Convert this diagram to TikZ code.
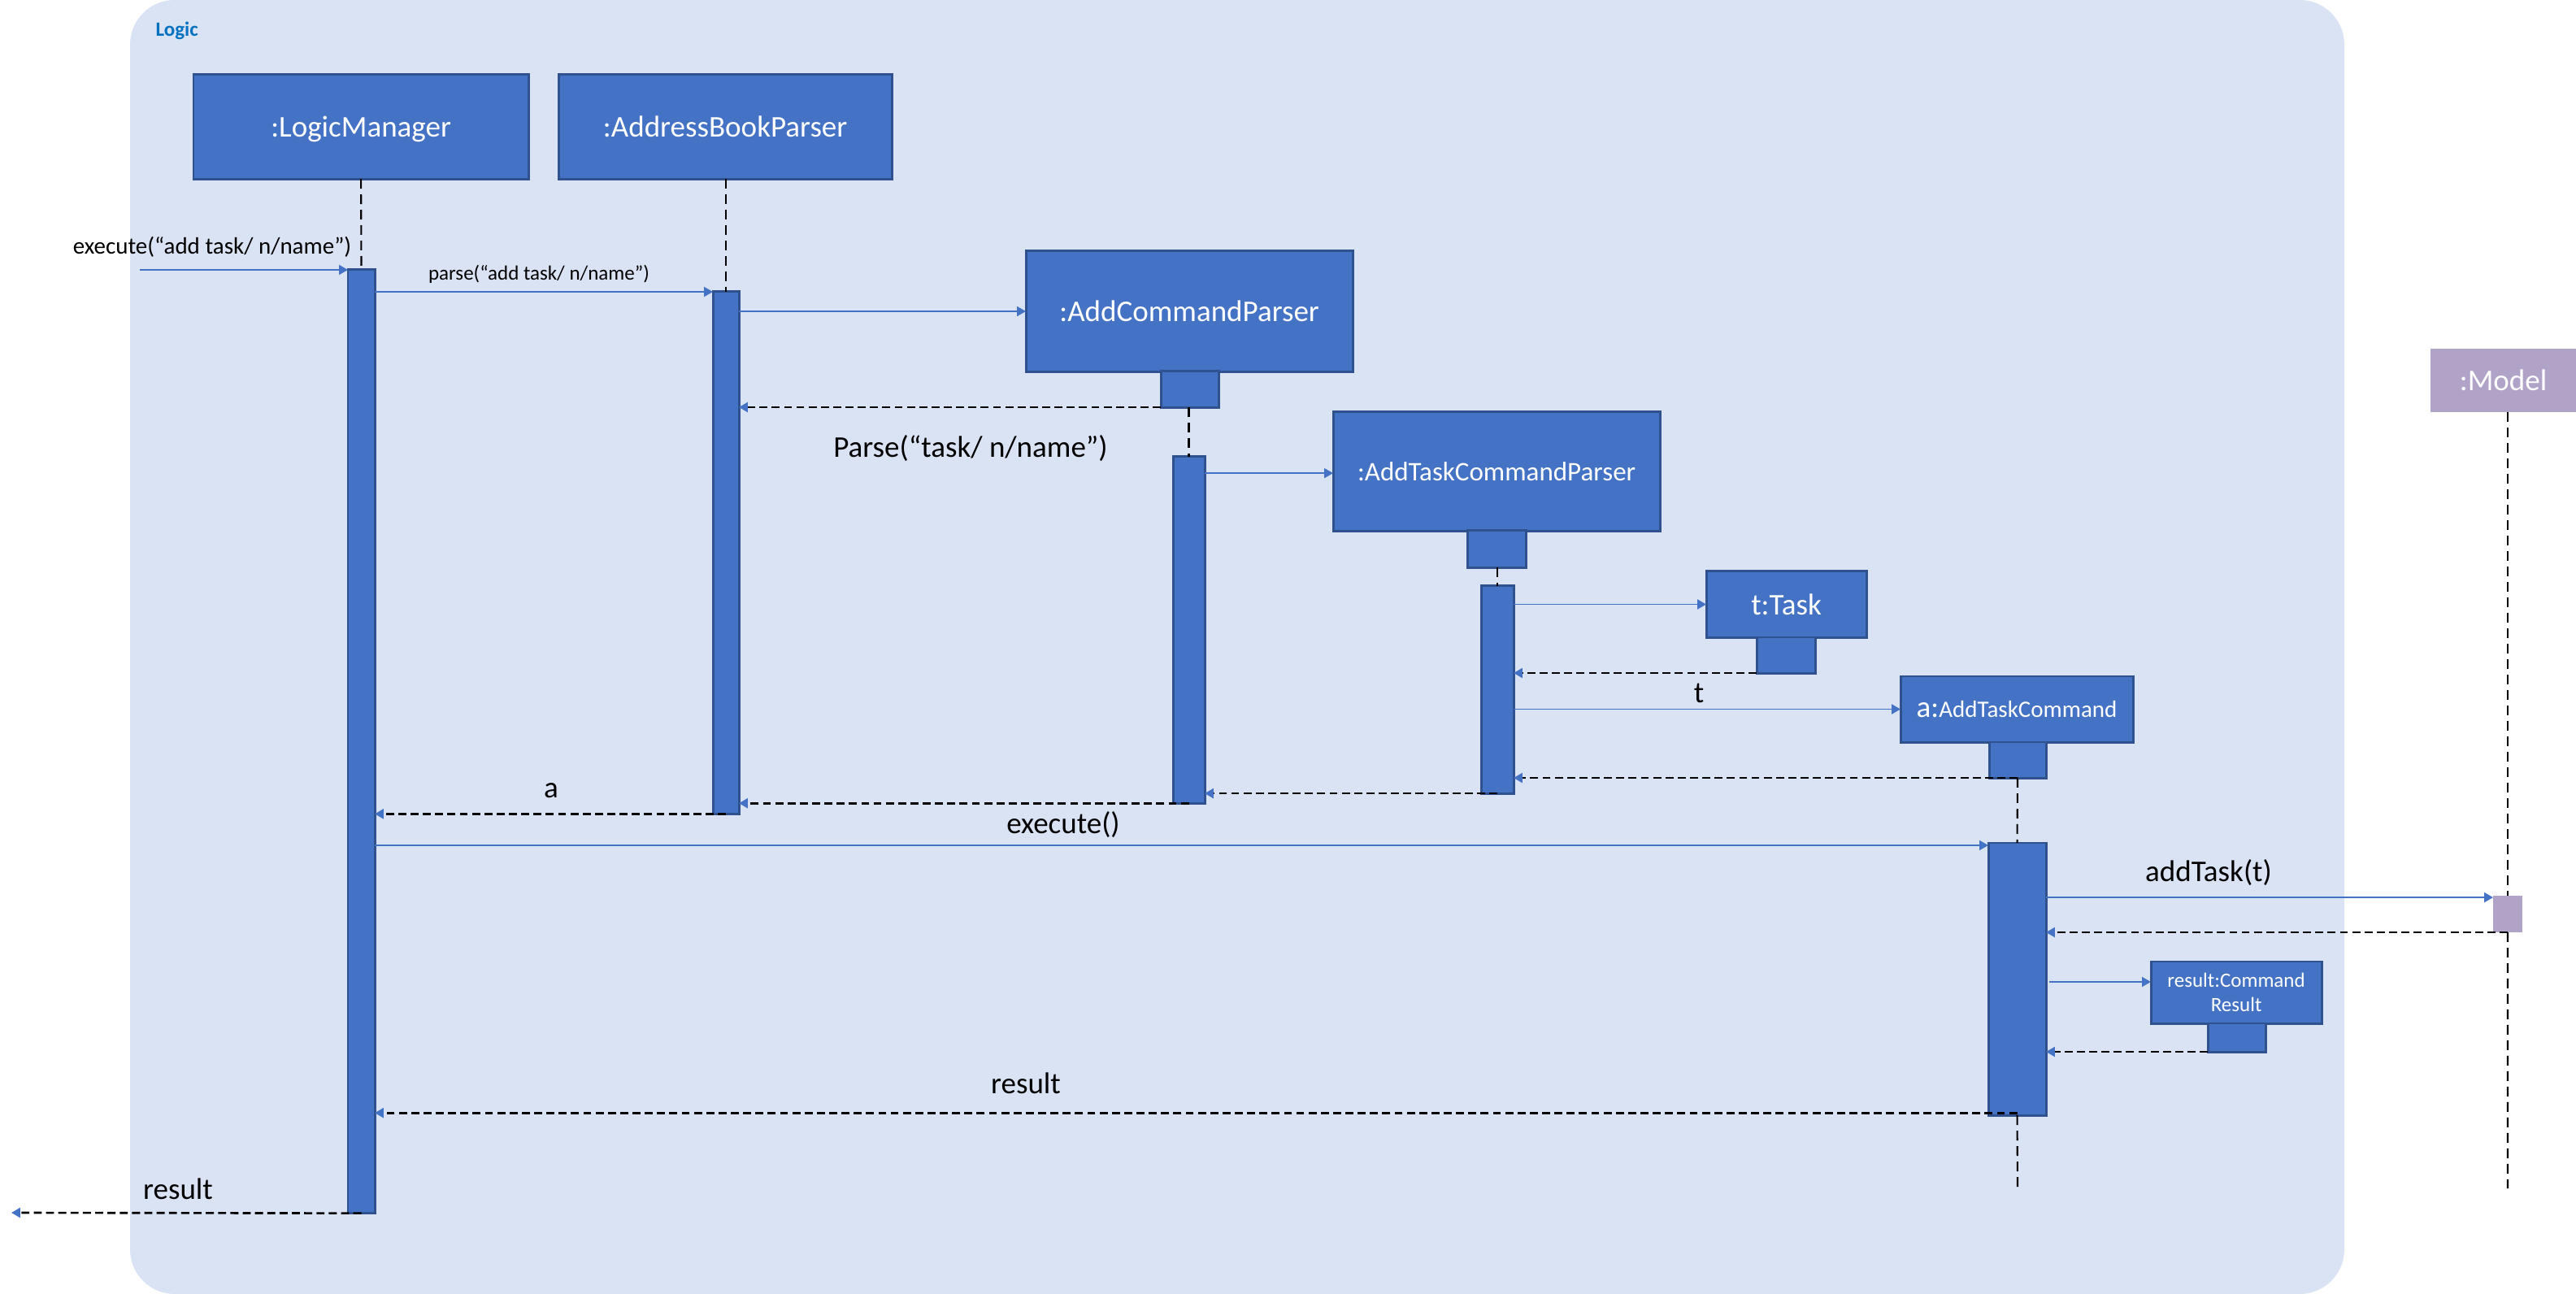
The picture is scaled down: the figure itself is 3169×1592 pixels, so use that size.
\documentclass[tikz,border=0pt]{standalone}
\usepackage{fontspec}
\setmainfont{Carlito}
\usetikzlibrary{arrows.meta}
\definecolor{bgblue}{HTML}{DAE3F3}
\definecolor{boxblue}{HTML}{4472C4}
\definecolor{boxedge}{HTML}{2F528F}
\definecolor{modelpurple}{HTML}{B1A2C8}
\definecolor{logicblue}{HTML}{0070C0}
\begin{document}
\begin{tikzpicture}[x=0.01cm,y=-0.01cm,
  obj/.style={draw=boxedge, line width=0.85pt, fill=boxblue, text=white, inner sep=0pt, outer sep=0pt, anchor=north west, font=\fontsize{10.53}{12.6}\selectfont},
  act/.style={draw=boxedge, line width=0.85pt, fill=boxblue, inner sep=0pt, outer sep=0pt, anchor=north west},
  life/.style={draw=black, line width=0.6pt, dash pattern=on 3.4pt off 2pt},
  msg/.style={draw=boxblue, line width=0.55pt, -{Triangle[length=3.1pt,width=3.4pt,color=boxblue]}},
  ret/.style={draw=black, line width=0.75pt, dash pattern=on 2.8pt off 1.5pt, -{Triangle[length=3.1pt,width=3.4pt,color=boxblue]}},
  lbl/.style={text=black, inner sep=0pt, font=\fontsize{10.53}{12.6}\selectfont},
  lblsmall/.style={text=black, inner sep=0pt, font=\fontsize{8.25}{10}\selectfont},
  lbltiny/.style={text=black, inner sep=0pt, font=\fontsize{7.11}{8.5}\selectfont}
]
\useasboundingbox (0,0) rectangle (3169,1592);
\fill[bgblue, rounded corners=15.6pt] (160,0) rectangle (2884,1592);
\node[anchor=west, inner sep=0pt, text=logicblue, font=\fontsize{7.11}{8.5}\selectfont\bfseries] (logic) at (191,38) {Logic};

% object boxes
\node[obj, minimum width=4.12cm, minimum height=1.28cm, text depth=0pt] (lm) at (238,92) {:LogicManager};
\node[obj, minimum width=4.10cm, minimum height=1.28cm] (abp) at (687,92) {:AddressBookParser};
\node[obj, minimum width=4.02cm, minimum height=1.48cm] (acp) at (1262,309) {:AddCommandParser};
\node[act, minimum width=0.71cm, minimum height=0.44cm] (acpS) at (1428,457) {};
\node[obj, minimum width=4.02cm, minimum height=1.46cm, font=\fontsize{9.39}{11}\selectfont] (atcp) at (1640,507) {:AddTaskCommandParser};
\node[act, minimum width=0.72cm, minimum height=0.45cm] (atcpS) at (1805,653) {};
\node[obj, minimum width=1.97cm, minimum height=0.81cm] (task) at (2099,703) {t:Task};
\node[act, minimum width=0.72cm, minimum height=0.44cm] (taskS) at (2161,784) {};
\node[obj, minimum width=2.86cm, minimum height=0.81cm] (atc) at (2338,832) {{\fontsize{10.53}{12}\selectfont a:}{\fontsize{8.25}{10}\selectfont AddTaskCommand}};
\node[act, minimum width=0.70cm, minimum height=0.44cm] (atcS) at (2447,913) {};
\node[obj, minimum width=2.10cm, minimum height=0.76cm, align=center, font=\fontsize{7.11}{8.54}\selectfont] (crs) at (2646,1183) {result:Command\\Result};
\node[act, minimum width=0.71cm, minimum height=0.35cm] (crsS) at (2716,1259) {};
\node[obj, draw=none, fill=modelpurple, minimum width=1.79cm, minimum height=0.78cm] (model) at (2990,429) {:Model};

% activation bars
\node[act, minimum width=0.33cm, minimum height=11.60cm] (lmbar) at (428,332) {};
\node[act, minimum width=0.32cm, minimum height=6.42cm] (abpbar) at (877,359) {};
\node[act, minimum width=0.39cm, minimum height=4.26cm] (acpbar) at (1443,562) {};
\node[act, minimum width=0.40cm, minimum height=2.55cm] (atcpbar) at (1822,721) {};
\node[act, minimum width=0.71cm, minimum height=3.35cm] (atcbar) at (2446,1037) {};
\node[act, draw=none, fill=modelpurple, minimum width=0.36cm, minimum height=0.45cm] (modelbar) at (3067,1102) {};

% lifelines
\coordinate (atcend) at (2482,1464);
\coordinate (modelend) at (3085,1462);
\draw[life] (lm.south) -- (lmbar.north);
\draw[life] (abp.south -| abpbar.north) -- (abpbar.north);
\draw[life] (acpS.south -| acpbar.north) -- (acpbar.north);
\draw[life] (atcpS.south -| atcpbar.north) -- (atcpbar.north);
\draw[life] (atcS.south) -- (atcbar.north);
\draw[life] (atcbar.south) -- (atcend);
\draw[life] (model.south -| modelbar.north) -- (modelbar.north);
\draw[life] (modelbar.south) -- (modelend);

% messages
\coordinate (in) at (172,332);
\draw[msg] (in) -- (lmbar.north west);
\node[lblsmall] (l1) at (261,304) {execute(“add task/ n/name”)};
\draw[msg] (lmbar.east |- abpbar.north) -- (abpbar.north west);
\node[lbltiny] (l2) at (663,337) {parse(“add task/ n/name”)};
\draw[msg] (abpbar.east |- acp.west) -- (acp.west);
\node[lbl] (l3) at (1194,552) {Parse(“task/ n/name”)};
\draw[msg] ([yshift=-0.6pt]acpbar.east |- atcp.west) -- ([yshift=-0.6pt]atcp.west);
\draw[msg] (atcpbar.east |- task.west) -- (task.west);
\draw[msg] (atcpbar.east |- atc.west) -- (atc.west);
\node[lbl] (l4) at (2090,853) {t};
\coordinate (e7) at ([yshift=-0.85pt]atcbar.north west);
\draw[msg] (lmbar.east |- e7) -- (e7);
\node[lbl] (l5) at (1308,1015) {execute()};
\coordinate (e8) at ([yshift=-0.6pt]modelbar.north west);
\draw[msg] (atcbar.east |- e8) -- (e8);
\node[lbl] (l6) at (2717,1074) {addTask(t)};
\coordinate (e9) at ([yshift=3.7pt]crs.west);
\draw[msg] ([xshift=1.1pt]atcbar.east |- e9) -- (e9);

% returns
\draw[ret] (acpS.south west) -- (abpbar.east |- acpS.south);
\draw[ret] (taskS.south west) -- (atcpbar.east |- taskS.south);
\draw[ret] (atcS.south) -- (atcpbar.east |- atcS.south);
\draw[ret] (atcpbar.south) -- (acpbar.east |- atcpbar.south);
\draw[ret] (acpbar.south) -- (abpbar.east |- acpbar.south);
\draw[ret] (abpbar.south) -- (lmbar.east |- abpbar.south);
\node[lbl] (l7) at (678,973) {a};
\draw[ret] (modelbar.south) -- (atcbar.east |- modelbar.south);
\draw[ret] (crsS.south west) -- (atcbar.east |- crsS.south);
\draw[ret] ([yshift=0.85pt]atcbar.south) -- ([yshift=0.85pt]lmbar.east |- atcbar.south);
\node[lbl] (l8) at (1262,1333) {result};
\coordinate (out) at (14,1492);
\draw[ret] (lmbar.south) -- (out);
\node[lbl] (l9) at (219,1463) {result};
\end{tikzpicture}
\end{document}
